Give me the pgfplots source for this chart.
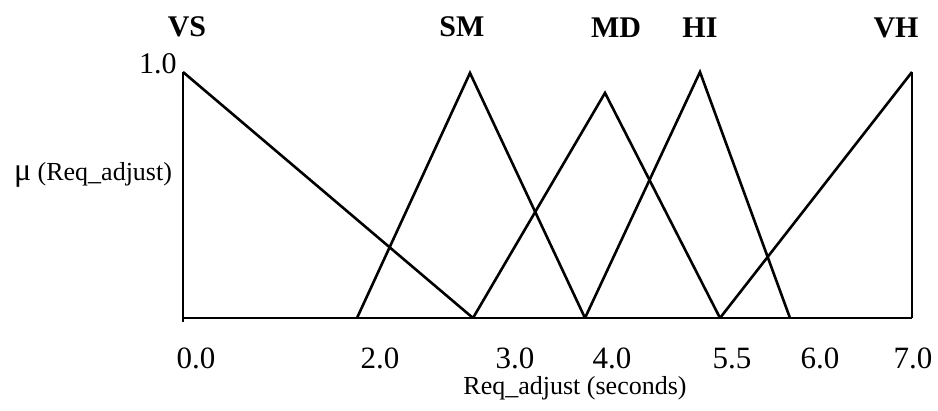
\documentclass[border=0pt]{standalone}
\usepackage{fontspec}
\setmainfont{Liberation Serif}
\usepackage{pgfplots}
\pgfplotsset{compat=1.18}
\begin{document}
\begin{tikzpicture}
\begin{axis}[
  x=0.5pt, y=123pt,
  xmin=183, xmax=913, ymin=0, ymax=1.04,
  clip=false,
  axis line style={draw=none},
  tick style={draw=none},
  /pgf/number format/assume math mode=true,
  xtick={196,380,515,612,732,820,913},
  xticklabels={0.0,2.0,3.0,4.0,5.5,6.0,7.0},
  xticklabel style={font=\fontsize{15.5}{17}\selectfont, anchor=base, yshift=-25pt},
  ytick={1.033},
  yticklabels={1.0},
  yticklabel style={font=\fontsize{15}{17}\selectfont, anchor=east, inner sep=0pt, xshift=-3pt},
  fz/.style={black, solid, line width=1.3pt, mark=none, line join=miter},
]
% axis frame lines
\addplot[fz] coordinates {(183,-0.015) (183,1)};
\addplot[fz] coordinates {(183,0) (912,0)};
\addplot[fz] coordinates {(912,0) (912,1)};
% membership functions
\addplot[fz] coordinates {(183,1) (473,0)};            % VS
\addplot[fz] coordinates {(357,0) (470,0.996) (585,0)}; % SM
\addplot[fz] coordinates {(473,0) (605,0.915) (720,0)}; % MD
\addplot[fz] coordinates {(585,0) (700,1) (790,0)};     % HI
\addplot[fz] coordinates {(720,0) (912,1)};             % VH
% labels
\node[font=\fontsize{15}{17}\selectfont\bfseries] at (axis cs:187,1.183) {VS};
\node[font=\fontsize{15}{17}\selectfont\bfseries] at (axis cs:462,1.183) {SM};
\node[font=\fontsize{15}{17}\selectfont\bfseries] at (axis cs:616,1.179) {MD};
\node[font=\fontsize{15}{17}\selectfont\bfseries] at (axis cs:700,1.179) {HI};
\node[font=\fontsize{15}{17}\selectfont\bfseries] at (axis cs:896,1.179) {VH};
\node[font=\fontsize{13}{15}\selectfont] at (axis cs:93,0.581) {{\fontsize{16}{17}\selectfont μ} (Req\_adjust)};
\node[font=\fontsize{13}{15}\selectfont] at (axis cs:575,-0.285) {Req\_adjust (seconds)};
\coordinate (bbA) at (axis cs:0,1.2927);
\coordinate (bbB) at (axis cs:938,-0.374);
\end{axis}
\pgfresetboundingbox
\useasboundingbox (bbA) rectangle (bbB);
\end{tikzpicture}
\end{document}
